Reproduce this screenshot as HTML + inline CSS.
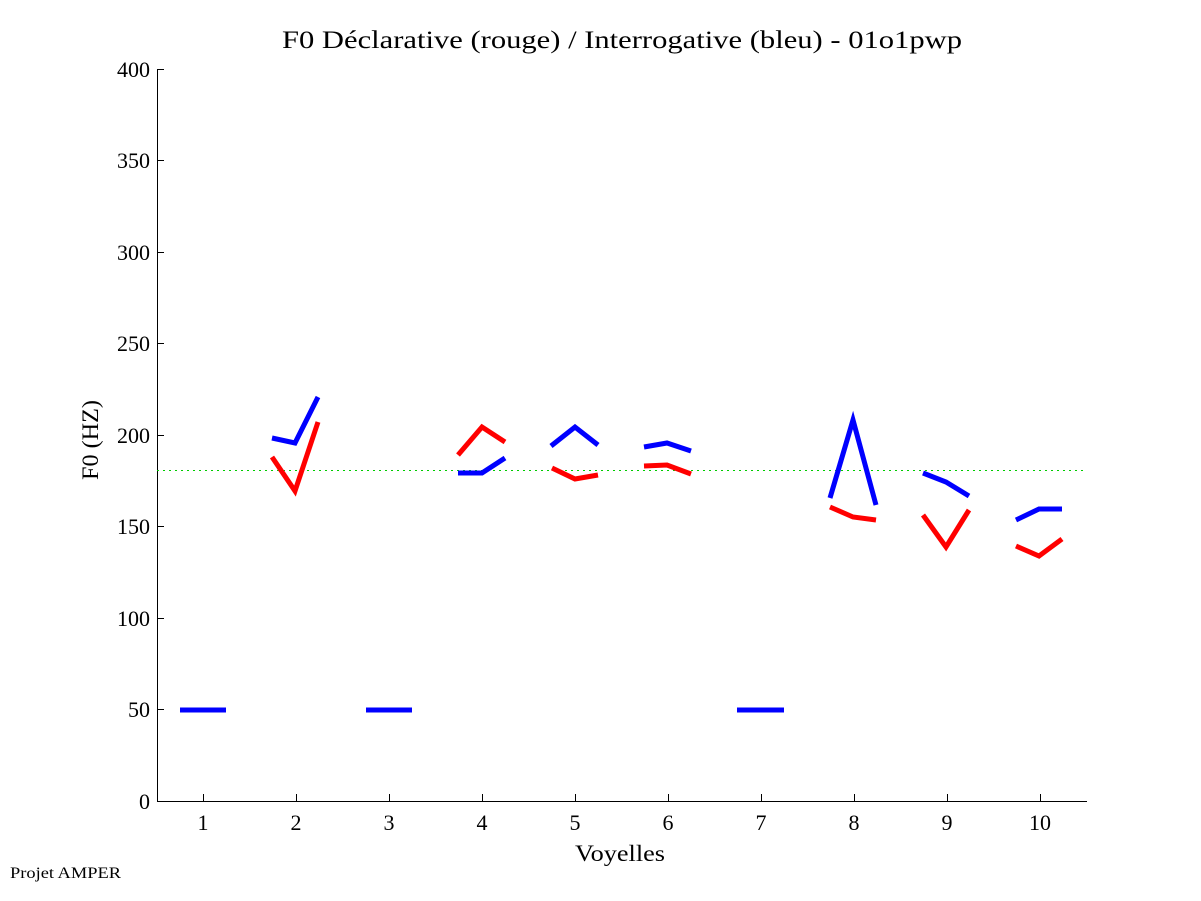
<!DOCTYPE html>
<html><head><meta charset="utf-8"><style>body{margin:0;background:#fff}svg{display:block}</style></head><body>
<svg width="1201" height="901" xmlns="http://www.w3.org/2000/svg" font-family="Liberation Serif, serif">
<rect width="1201" height="901" fill="#fff"/>
<text x="282" y="48" font-size="25" textLength="680" lengthAdjust="spacingAndGlyphs">F0 Déclarative (rouge) / Interrogative (bleu) - 01o1pwp</text>
<g stroke="#000" stroke-width="1" fill="none">
<line x1="157.5" y1="69" x2="157.5" y2="801"/>
<line x1="157" y1="801.5" x2="1087" y2="801.5"/>
<g>
<line x1="157" y1="69.5" x2="164" y2="69.5"/><line x1="157" y1="160.5" x2="164" y2="160.5"/><line x1="157" y1="252.5" x2="164" y2="252.5"/><line x1="157" y1="343.5" x2="164" y2="343.5"/><line x1="157" y1="435.5" x2="164" y2="435.5"/><line x1="157" y1="526.5" x2="164" y2="526.5"/><line x1="157" y1="618.5" x2="164" y2="618.5"/><line x1="157" y1="709.5" x2="164" y2="709.5"/>
<line x1="203.5" y1="801" x2="203.5" y2="794"/><line x1="296.5" y1="801" x2="296.5" y2="794"/><line x1="389.5" y1="801" x2="389.5" y2="794"/><line x1="482.5" y1="801" x2="482.5" y2="794"/><line x1="575.5" y1="801" x2="575.5" y2="794"/><line x1="668.5" y1="801" x2="668.5" y2="794"/><line x1="761.5" y1="801" x2="761.5" y2="794"/><line x1="854.5" y1="801" x2="854.5" y2="794"/><line x1="947.5" y1="801" x2="947.5" y2="794"/><line x1="1040.5" y1="801" x2="1040.5" y2="794"/>
</g></g>
<g font-size="22" text-anchor="end">
<text x="150" y="77">400</text><text x="150" y="168">350</text><text x="150" y="260">300</text><text x="150" y="351">250</text><text x="150" y="443">200</text><text x="150" y="534">150</text><text x="150" y="626">100</text><text x="150" y="717">50</text><text x="150" y="809">0</text>
</g>
<g font-size="22" text-anchor="middle">
<text x="203" y="830">1</text><text x="296" y="830">2</text><text x="389" y="830">3</text><text x="482" y="830">4</text><text x="575" y="830">5</text><text x="668" y="830">6</text><text x="761" y="830">7</text><text x="854" y="830">8</text><text x="947" y="830">9</text><text x="1040" y="830">10</text>
</g>
<text x="575" y="861" font-size="23" textLength="90" lengthAdjust="spacingAndGlyphs">Voyelles</text>
<text transform="translate(98,480) rotate(-90)" font-size="23" textLength="80" lengthAdjust="spacingAndGlyphs">F0 (HZ)</text>
<text x="10" y="878" font-size="16" textLength="111" lengthAdjust="spacingAndGlyphs">Projet AMPER</text>
<line x1="157" y1="470.5" x2="1087" y2="470.5" stroke="#0c0" stroke-width="1" stroke-dasharray="2,4"/>
<g fill="none" stroke-width="5" stroke="#00f">
<polyline points="180,710 226,710"/>
<polyline points="272,438 295,443 318,397"/>
<polyline points="366,710 412,710"/>
<polyline points="458,473 482,473 505,458"/>
<polyline points="551,446 575,427 598,445"/>
<polyline points="644,447 667,443 691,451"/>
<polyline points="737,710 784,710"/>
<polyline points="830,498 853,420 876,505"/>
<polyline points="923,473 946,482 969,496"/>
<polyline points="1016,520 1039,509 1062,509"/>
</g>
<g fill="none" stroke-width="5" stroke="#f00">
<polyline points="272,457 295,491 318,422"/>
<polyline points="458,455 482,427 505,442"/>
<polyline points="552,468 575,479 598,475"/>
<polyline points="644,466 667,465 691,474"/>
<polyline points="830,507 853,517 876,520"/>
<polyline points="923,515 946,547 969,510"/>
<polyline points="1016,546 1039,556 1062,539"/>
</g>
</svg>
</body></html>
